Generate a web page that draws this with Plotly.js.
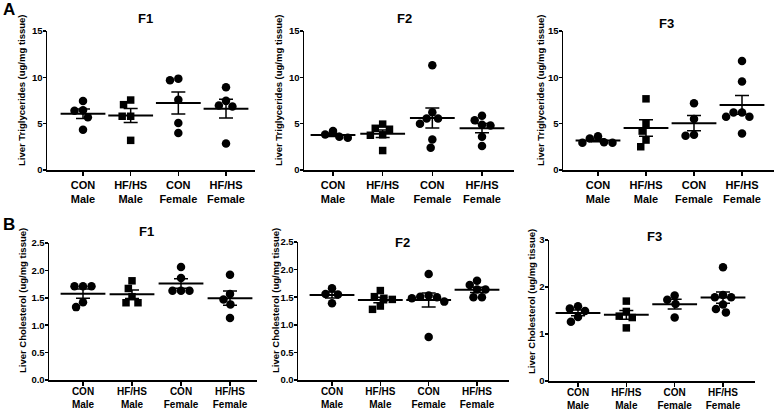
<!DOCTYPE html>
<html>
<head>
<meta charset="utf-8">
<script src="https://cdn.plot.ly/plotly-3.0.1.min.js"></script>
<style>html,body{margin:0;padding:0;background:#fff}#chart{width:774px;height:410px}</style>
</head>
<body>
<div id="chart"></div>
<script>
// categories
const groups = ['CON<br>Male', 'HF/HS<br>Male', 'CON<br>Female', 'HF/HS<br>Female'];

// liver triglycerides (ug/mg tissue), one array per group
const tgF1 = [[7.45, 6.4, 6.45, 5.7, 4.35], [7.55, 7.05, 5.8, 5.8, 3.2], [9.86, 9.68, 7.57, 5.07, 4.0], [8.93, 6.96, 6.86, 7.46, 2.86]];
const tgF2 = [[3.84, 3.48, 3.59, 4.2], [4.95, 4.5, 4.4, 3.8, 3.75, 2.1], [11.3, 6.24, 5.56, 5.56, 4.99, 3.3, 2.4], [5.85, 5.38, 4.88, 4.8, 3.59, 2.58]];
const tgF3 = [[3.65, 3.0, 2.95, 2.95, 3.4], [7.68, 5.02, 4.2, 3.23, 2.51], [7.2, 5.5, 3.7, 3.8], [11.77, 9.55, 6.2, 5.75, 5.75, 6.2, 3.95]];

// liver cholesterol (ug/mg tissue)
const chF1 = [[1.71, 1.71, 1.71, 1.33, 1.42], [1.81, 1.67, 1.52, 1.41, 1.41], [2.06, 1.86, 1.63, 1.63, 1.63], [1.92, 1.57, 1.47, 1.38, 1.13]];
const chF2 = [[1.56, 1.55, 1.66, 1.39], [1.62, 1.51, 1.48, 1.46, 1.34, 1.28], [1.92, 1.51, 1.50, 1.48, 1.53, 1.42, 0.78], [1.80, 1.72, 1.64, 1.64, 1.50, 1.50]];
const chF3 = [[1.54, 1.49, 1.59, 1.36, 1.26], [1.70, 1.48, 1.38, 1.35, 1.13], [1.82, 1.73, 1.64, 1.35], [2.42, 1.83, 1.78, 1.78, 1.63, 1.53, 1.46]];

const tgTitle = 'Liver Triglycerides (ug/mg tissue)';
const chTitle = 'Liver Cholesterol (ug/mg tissue)';

const W = 774, H = 410;
const FONT = 'Arial, "Liberation Sans", sans-serif';
const DOT = 8.5; // px spacing for the swarm

// panel geometry in pixels (axis left/right, first & last category, plot top/bottom)
const panels = [
    { data: tgF1, name: 'F1', yt: tgTitle, l: 47,  r: 255, c0: 83,  c3: 226, t: 31,  b: 170, ymax: 15,  dtick: 5,   fmt: '',    tx: 145, ty: 18,  yx: 22,  yy: 90,  xs: 11, so: 0 },
    { data: tgF2, name: 'F2', yt: tgTitle, l: 304, r: 514, c0: 333, c3: 482, t: 31,  b: 170, ymax: 15,  dtick: 5,   fmt: '',    tx: 404, ty: 18,  yx: 279, yy: 90,  xs: 11, so: 0 },
    { data: tgF3, name: 'F3', yt: tgTitle, l: 563, r: 774, c0: 598, c3: 742, t: 31,  b: 170, ymax: 15,  dtick: 5,   fmt: '',    tx: 666, ty: 23,  yx: 541, yy: 90,  xs: 11, so: 0 },
    { data: chF1, name: 'F1', yt: chTitle, l: 49,  r: 257, c0: 83,  c3: 230, t: 243, b: 380, ymax: 2.5, dtick: 0.5, fmt: '.1f', tx: 146, ty: 232, yx: 22,  yy: 301, xs: 10, so: -3 },
    { data: chF2, name: 'F2', yt: chTitle, l: 298, r: 509, c0: 332, c3: 477, t: 242, b: 380, ymax: 2.5, dtick: 0.5, fmt: '.1f', tx: 402, ty: 242, yx: 275, yy: 301, xs: 10, so: -3 },
    { data: chF3, name: 'F3', yt: chTitle, l: 549, r: 755, c0: 578, c3: 723, t: 240, b: 381, ymax: 3,   dtick: 1,   fmt: '',    tx: 654, ty: 237, yx: 531, yy: 302, xs: 10, so: -3 }
];

// simple beeswarm: returns horizontal pixel offsets
function swarm(vals, pyu) {
    const order = vals.map((v, i) => i).sort((a, b) => vals[b] - vals[a]);
    const placed = [];
    const out = new Array(vals.length).fill(0);
    order.forEach(i => {
        const y = vals[i] * pyu;
        const cand = [0];
        placed.forEach(p => {
            const dy = Math.abs(p.y - y);
            if (dy < DOT) {
                const dx = Math.sqrt(DOT * DOT - dy * dy);
                cand.push(p.x + dx, p.x - dx);
            }
        });
        cand.sort((a, b) => Math.abs(a) - Math.abs(b) || a - b);
        const x = cand.find(c => placed.every(p => Math.hypot(p.x - c, p.y - y) >= DOT - 1e-6));
        placed.push({ x: x, y: y });
        out[i] = x;
    });
    return out;
}

function mean(a) { return a.reduce((s, v) => s + v, 0) / a.length; }
function sem(a) {
    const m = mean(a);
    const sd = Math.sqrt(a.reduce((s, v) => s + (v - m) * (v - m), 0) / (a.length - 1));
    return sd / Math.sqrt(a.length);
}

function label(text, px, py, size, angle) {
    return {
        text: text, x: px / W, y: 1 - py / H, xref: 'paper', yref: 'paper',
        xanchor: 'center', yanchor: 'middle', textangle: angle || 0,
        showarrow: false, font: { size: size, weight: 'bold', family: FONT, color: '#000' }
    };
}

const traces = [];
const layout = {
    width: W, height: H,
    margin: { l: 0, r: 0, t: 0, b: 0 },
    paper_bgcolor: 'white', plot_bgcolor: 'white',
    showlegend: false,
    font: { family: FONT, color: '#000' },
    annotations: [label('A', 9, 9, 17), label('B', 9, 224, 17)]
};

panels.forEach((p, k) => {
    const n = k === 0 ? '' : String(k + 1);
    const xa = 'x' + n, ya = 'y' + n;
    const pcat = (p.c3 - p.c0) / 3;
    const pyu = (p.b - p.t) / p.ymax;

    p.data.forEach((vals, g) => {
        const offs = swarm(vals, pyu);
        traces.push({
            x: offs.map(o => g + o / pcat), y: vals,
            xaxis: xa, yaxis: ya,
            mode: 'markers',
            marker: { symbol: g === 1 ? 'square' : 'circle', size: g === 1 ? 7.5 : 8.5, color: '#000' },
            hoverinfo: 'skip', cliponaxis: false
        });
        traces.push({
            x: [g], y: [mean(vals)],
            xaxis: xa, yaxis: ya,
            mode: 'markers',
            marker: { symbol: 'line-ew', size: 32, color: '#000', line: { width: 2, color: '#000' } },
            error_y: { type: 'data', array: [sem(vals)], width: 7, thickness: 1.5, color: '#000' },
            hoverinfo: 'skip', cliponaxis: false
        });
    });

    layout['xaxis' + n] = {
        domain: [p.l / W, p.r / W],
        range: [(p.l - p.c0) / pcat, (p.r - p.c0) / pcat],
        anchor: ya,
        tickvals: [0, 1, 2, 3], ticktext: groups,
        tickfont: { size: p.xs, weight: 'bold', family: FONT },
        ticklabelstandoff: p.so,
        showline: true, linecolor: '#000', linewidth: 1.5,
        ticks: 'outside', ticklen: 4, tickwidth: 1.5, tickcolor: '#000',
        showgrid: false, zeroline: false, fixedrange: true
    };
    layout['yaxis' + n] = {
        domain: [1 - p.b / H, 1 - p.t / H],
        range: [0, p.ymax],
        anchor: xa,
        tick0: 0, dtick: p.dtick, tickformat: p.fmt,
        tickfont: { size: 9.5, weight: 'bold', family: FONT },
        ticklabelstandoff: -2,
        showline: true, linecolor: '#000', linewidth: 1.5,
        ticks: 'outside', ticklen: 3, tickwidth: 1.5, tickcolor: '#000',
        showgrid: false, zeroline: false, fixedrange: true
    };

    layout.annotations.push(label(p.name, p.tx, p.ty, 13));
    layout.annotations.push(label(p.yt, p.yx, p.yy, 9.5, -90));
});

Plotly.newPlot('chart', traces, layout, { staticPlot: true, displayModeBar: false });
</script>
</body>
</html>
